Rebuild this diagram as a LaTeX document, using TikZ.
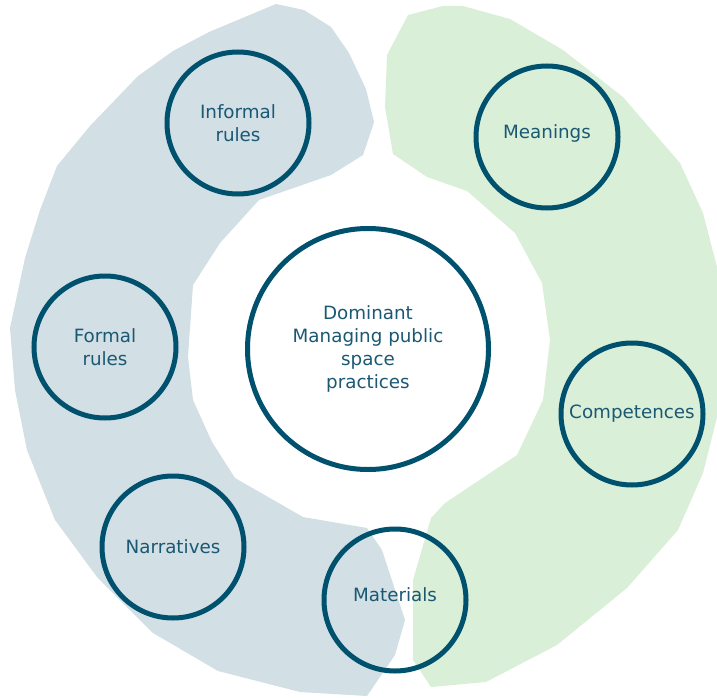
\documentclass[tikz,border=0pt]{standalone}
\usepackage{fontspec}
\setmainfont{DejaVu Sans}
\definecolor{ringblue}{HTML}{00516E}
\definecolor{textblue}{HTML}{1A5873}
\definecolor{greyband}{HTML}{D2DFE5}
\definecolor{greenband}{HTML}{DAEFD8}
\tikzset{
    %Define style for the circles
    element/.style={
           circle,
           draw=ringblue,
           line width=5pt,
           minimum size=142pt,
           inner sep=0pt,
           font=\fontsize{18.3}{23}\selectfont,
           text=textblue,
           align=center},
    core/.style={
           element,
           minimum size=241pt},
    % Define style for the bands
    band/.style={draw=none}
}
\begin{document}
\begin{tikzpicture}[x=1pt,y=-1pt]
\useasboundingbox (0,0) rectangle (717,698);
 %bands
\fill[band,greyband] (276,4) -- (304,10) -- (331,27) -- (349,53) -- (366,89)
    -- (374,122) -- (363,155) -- (331,175) -- (259,200) -- (220,243)
    -- (193,285) -- (188,357) -- (193,400) -- (212,442) -- (235,478)
    -- (303,517) -- (367,528) -- (382,550) -- (405,620) -- (395,655)
    -- (367,696) -- (300,692) -- (218,671) -- (153,633) -- (97,577)
    -- (55,520) -- (27,450) -- (15,390) -- (10,328) -- (25,258)
    -- (40,210) -- (57,166) -- (90,126) -- (138,76) -- (173,51)
    -- (209,32) -- cycle;
\fill[band,greenband] (408,15) -- (443,6) -- (463,6) -- (510,19) -- (563,50)
    -- (623,97) -- (680,163) -- (703,213) -- (717,267) -- (717,417)
    -- (703,473) -- (678,530) -- (627,588) -- (557,645) -- (486,682)
    -- (431,687) -- (413,660) -- (413,580) -- (431,518) -- (445,503)
    -- (517,455) -- (543,400) -- (550,340) -- (542,283) -- (515,233)
    -- (467,191) -- (427,177) -- (393,154) -- (385,107) -- (387,55)
    -- cycle;
 %nodes
\node[core](practices) at (368,349){Dominant\\Managing public\\space\\practices};
\node[element](informal) at (238,123){Informal\\rules};
\node[element](formal) at (105,347){Formal\\rules};
\node[element](narratives) at (173,547){Narratives};
\node[element](materials) at (395,600){Materials\\[-13pt]};
\node[element](meanings) at (547,137){Meanings\\[-13pt]};
\node[element](competences) at (632,414){Competences};
\end{tikzpicture}
\end{document}
